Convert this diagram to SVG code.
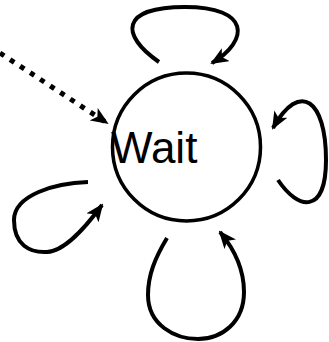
<svg xmlns="http://www.w3.org/2000/svg" width="329" height="342" viewBox="0 0 329 342">
<style>
.edge{fill:none;stroke:#000;stroke-width:4;marker-end:url(#arr)}
.dot{fill:none;stroke:#000;stroke-width:5;stroke-dasharray:5 7;marker-end:url(#arr)}
.node{fill:#fff;stroke:#000;stroke-width:3.5}
.lbl{font-family:"Liberation Sans",Arial,sans-serif;font-size:44px;fill:#000}
</style>
<defs>
<marker id="arr" markerUnits="userSpaceOnUse" viewBox="0 0 18 15" markerWidth="18" markerHeight="15" refX="16" refY="7.5" orient="auto">
<path d="M18,7.5 L0,0 L4.5,7.5 L0,15 z" fill="#000"/>
</marker>
</defs>
<g id="node-wait">
<circle class="node" cx="186.5" cy="147" r="74"/>
<text class="lbl" x="111" y="163">Wait</text>
</g>
<g id="connectors">
<path class="dot" d="M0,53 L107,123"/>
<path class="edge" d="M159,62 C120,35 120,7 185,7 C250,7 250,40 212,63"/>
<path class="edge" d="M278,180 C298,210 326,215 326,160 C326,100 300,80 273,128"/>
<path class="edge" d="M88,182 C55,183 14,195 14,220 C14,245 30,253 47,252 C65,251 85,228 102,205"/>
<path class="edge" d="M167,238 C155,258 148,275 148,295 C148,325 175,339 198,339 C222,339 244,322 244,292 C244,270 235,250 220,232"/>
</g>
</svg>
